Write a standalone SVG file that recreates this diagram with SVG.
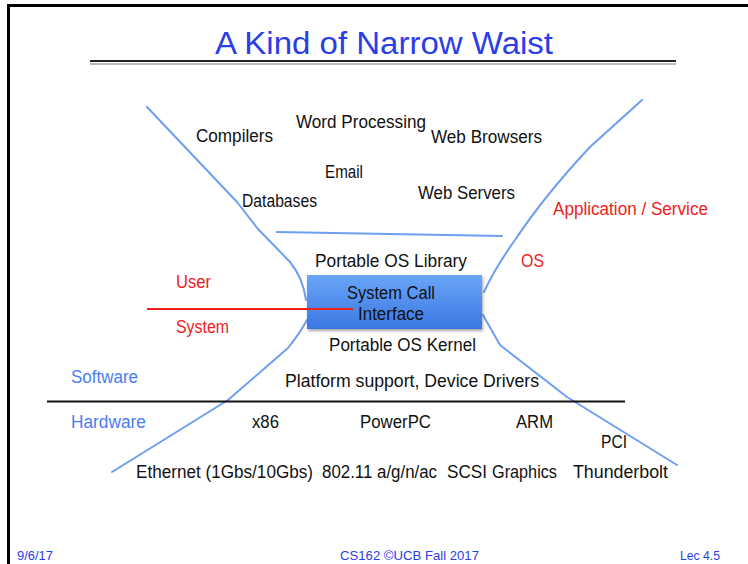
<svg xmlns="http://www.w3.org/2000/svg" width="748" height="564" viewBox="0 0 748 564">
<defs>
<linearGradient id="boxg" x1="0" y1="0" x2="0" y2="1">
<stop offset="0" stop-color="#6aa5f8"/>
<stop offset="1" stop-color="#3a78e2"/>
</linearGradient>
<filter id="sh" x="-10%" y="-20%" width="130%" height="150%">
<feDropShadow dx="1" dy="2" stdDeviation="1.5" flood-color="#000" flood-opacity="0.35"/>
</filter>
</defs>
<style>
text{font-family:"Liberation Sans",Arial,sans-serif;font-size:17.5px;fill:#111}
.red{fill:#f0201a}
.blue{fill:#4a7df0}
.title{font-size:31px;fill:#2b3de6}
.foot{font-size:13px;fill:#2b3de6}
.fl{fill:none;stroke:#6e9ef2;stroke-width:2;stroke-linejoin:round;stroke-linecap:round}
</style>
<rect width="748" height="564" fill="#fff"/>
<g id="frame">
<line x1="7" y1="5.5" x2="748" y2="5.5" stroke="#000" stroke-width="3"/>
<line x1="8.5" y1="5" x2="8.5" y2="564" stroke="#000" stroke-width="3"/>
</g>
<g id="title">
<text class="title" x="215" y="54" textLength="338" lengthAdjust="spacingAndGlyphs">A Kind of Narrow Waist</text>
<line x1="90" y1="61" x2="676" y2="61" stroke="#222" stroke-width="1.8"/>
<line x1="90" y1="64" x2="676" y2="64" stroke="#777" stroke-width="1.2"/>
</g>
<g id="connectors">
<path class="fl" d="M147,107 L237,202 L258,229 L290,262 Q303,278 306,300"/>
<path class="fl" d="M307,320 Q300,333 288,348 L228,400 L112,472"/>
<path class="fl" d="M642,100 L590,147 Q545,195 515,240 Q495,268 484,292"/>
<path class="fl" d="M483,315 L500,345 L567,397 L677,465"/>
<line class="fl" x1="277" y1="232" x2="502" y2="236"/>
<line x1="47" y1="401.5" x2="625" y2="401.5" stroke="#111" stroke-width="2"/>
</g>
<g id="apps">
<text x="196" y="142" textLength="77" lengthAdjust="spacingAndGlyphs">Compilers</text>
<text x="296" y="128" textLength="130" lengthAdjust="spacingAndGlyphs">Word Processing</text>
<text x="431" y="143" textLength="111" lengthAdjust="spacingAndGlyphs">Web Browsers</text>
<text x="325" y="178" textLength="38" lengthAdjust="spacingAndGlyphs">Email</text>
<text x="242" y="207" textLength="75" lengthAdjust="spacingAndGlyphs">Databases</text>
<text x="418" y="199" textLength="97" lengthAdjust="spacingAndGlyphs">Web Servers</text>
</g>
<g id="labels">
<text class="red" x="553" y="215" textLength="155" lengthAdjust="spacingAndGlyphs">Application / Service</text>
<text class="red" x="521" y="267" textLength="23" lengthAdjust="spacingAndGlyphs">OS</text>
<text class="red" x="176" y="288" textLength="35" lengthAdjust="spacingAndGlyphs">User</text>
<text class="red" x="176" y="333" textLength="53" lengthAdjust="spacingAndGlyphs">System</text>
<text class="blue" x="71" y="383" textLength="67" lengthAdjust="spacingAndGlyphs">Software</text>
<text class="blue" x="71" y="428" textLength="75" lengthAdjust="spacingAndGlyphs">Hardware</text>
</g>
<g id="oslib">
<text x="315" y="267" textLength="152" lengthAdjust="spacingAndGlyphs">Portable OS Library</text>
</g>
<g id="syscall">
<rect x="307" y="275" width="175" height="54" fill="url(#boxg)" filter="url(#sh)"/>
<text x="347" y="299" textLength="88" lengthAdjust="spacingAndGlyphs">System Call</text>
<text x="358" y="320" textLength="66" lengthAdjust="spacingAndGlyphs">Interface</text>
</g>
<g id="userline">
<line x1="147" y1="309" x2="353" y2="309" stroke="#f0201a" stroke-width="2"/>
</g>
<g id="oskernel">
<text x="329" y="351" textLength="147" lengthAdjust="spacingAndGlyphs">Portable OS Kernel</text>
</g>
<g id="drivers">
<text x="285" y="387" textLength="254" lengthAdjust="spacingAndGlyphs">Platform support,  Device Drivers</text>
</g>
<g id="hw">
<text x="252" y="428" textLength="27" lengthAdjust="spacingAndGlyphs">x86</text>
<text x="360" y="428" textLength="71" lengthAdjust="spacingAndGlyphs">PowerPC</text>
<text x="516" y="428" textLength="37" lengthAdjust="spacingAndGlyphs">ARM</text>
<text x="601" y="448" textLength="26" lengthAdjust="spacingAndGlyphs">PCI</text>
<text x="136" y="478" textLength="177" lengthAdjust="spacingAndGlyphs">Ethernet (1Gbs/10Gbs)</text>
<text x="322" y="478" textLength="115" lengthAdjust="spacingAndGlyphs">802.11 a/g/n/ac</text>
<text x="447" y="478" textLength="40" lengthAdjust="spacingAndGlyphs">SCSI</text>
<text x="492" y="478" textLength="65" lengthAdjust="spacingAndGlyphs">Graphics</text>
<text x="573" y="478" textLength="95" lengthAdjust="spacingAndGlyphs">Thunderbolt</text>
</g>
<g id="footer">
<text class="foot" x="17" y="560" textLength="36" lengthAdjust="spacingAndGlyphs">9/6/17</text>
<text class="foot" x="340" y="560" textLength="139" lengthAdjust="spacingAndGlyphs">CS162 ©UCB Fall 2017</text>
<text class="foot" x="680" y="560" textLength="40" lengthAdjust="spacingAndGlyphs">Lec 4.5</text>
</g>
</svg>
